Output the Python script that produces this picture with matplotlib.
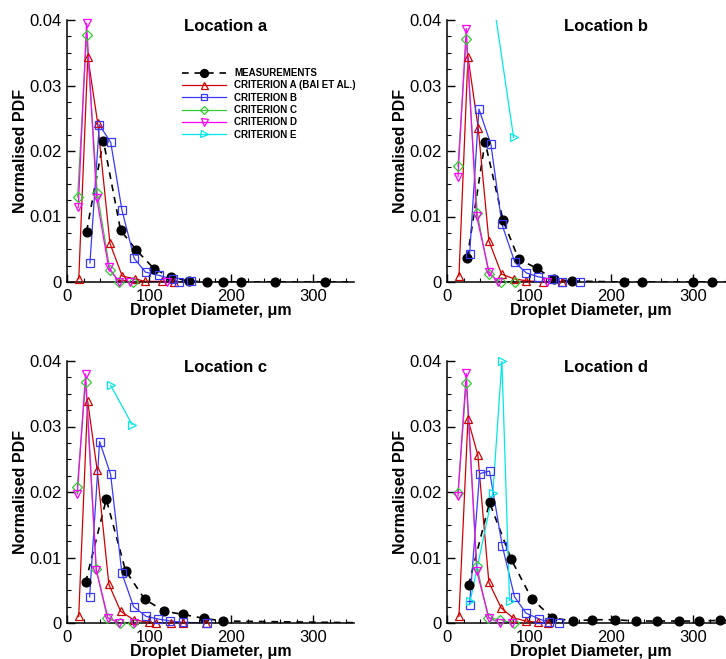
import matplotlib
matplotlib.use("Agg")
import numpy as np
import matplotlib.pyplot as plt
from matplotlib.ticker import MultipleLocator, FuncFormatter
from matplotlib.lines import Line2D

plt.rcParams["font.family"] = ["Liberation Sans", "DejaVu Sans"]

# ---------------- Location a ----------------
a_meas_d = [23.5, 44, 65, 84, 106, 127, 148.5, 170, 190, 212, 253, 314, 380]
a_meas_p = [0.0077, 0.0216, 0.0079, 0.0049, 0.0020, 0.0007, 0.00015, 0.0, 0.0, 0.0, 0.0, 0.0, 0.0]
a_A_d = [14, 25, 37, 52, 67, 82, 95, 116, 130]
a_A_p = [0.0005, 0.0344, 0.0243, 0.0059, 0.0009, 0.0005, 0.0001, 0.0001, 0.0]
a_B_d = [27.6, 39, 53, 66.6, 81.6, 95.4, 112, 129, 136, 150.6]
a_B_p = [0.0029, 0.0240, 0.0213, 0.0110, 0.0036, 0.0015, 0.0010, 0.0004, 0.0, 0.0001]
a_C_d = [12.6, 23.5, 36.5, 52, 63.3, 80.4]
a_C_p = [0.0130, 0.0377, 0.0136, 0.0018, 0.0, 0.0]
a_D_d = [13.4, 23.5, 35.7, 50.3, 63.3, 76.3, 121]
a_D_p = [0.0114, 0.0395, 0.0129, 0.0023, 0.0, 0.0, 0.0]
a_E_d = []
a_E_p = []

# ---------------- Location b ----------------
b_meas_d = [24.4, 46, 68, 87, 109, 130, 152, 216, 237, 300, 322.6, 380]
b_meas_p = [0.0037, 0.0214, 0.0094, 0.0035, 0.0021, 0.0004, 0.00015, 0.0, 0.0, 0.0, 0.0, 0.0]
b_A_d = [14.2, 25.2, 37.7, 50.7, 66.2, 81.2, 95.4, 116.5, 140]
b_A_p = [0.0009, 0.0344, 0.0235, 0.0063, 0.0012, 0.0005, 0.0002, 0.0, 0.0]
b_B_d = [27.2, 38.6, 53.2, 66.6, 82.4, 96.2, 110.8, 127.8, 140, 162]
b_B_p = [0.0042, 0.0264, 0.0210, 0.0088, 0.0030, 0.0014, 0.0008, 0.0004, 0.0, 0.0]
b_C_d = [13, 23.1, 36.5, 50.7, 65, 83]
b_C_p = [0.0177, 0.0371, 0.0105, 0.0012, 0.0, 0.0]
b_D_d = [13, 23.1, 35.7, 51, 61.7, 121.8]
b_D_p = [0.0161, 0.0387, 0.0101, 0.0015, 0.0, 0.0]
b_E_d = [57, 80.8]
b_E_p = [0.0423, 0.0221]

# ---------------- Location c ----------------
c_meas_d = [22.3, 47.5, 71, 94.6, 118.5, 141.6, 167, 190, 380]
c_meas_p = [0.0062, 0.0189, 0.0080, 0.0036, 0.0018, 0.0013, 0.0007, 0.0003, 0.0]
c_A_d = [13.9, 24.8, 36.5, 50.7, 65, 80.8, 99.4, 108, 126, 141, 169]
c_A_p = [0.0010, 0.0339, 0.0233, 0.0059, 0.0018, 0.0005, 0.0001, 0.0, 0.0, 0.0, 0.0]
c_B_d = [27.2, 39.4, 52.8, 66.6, 80.8, 96.2, 111.2, 125.8, 140.8, 170.5]
c_B_p = [0.0040, 0.0277, 0.0227, 0.0076, 0.0025, 0.0010, 0.0006, 0.0003, 0.0001, 0.0]
c_C_d = [12.2, 22.3, 35.3, 48.7, 64.5, 80]
c_C_p = [0.0208, 0.0368, 0.0082, 0.0008, 0.0, 0.0]
c_D_d = [12.2, 22.3, 35.3, 49.5, 63, 81]
c_D_p = [0.0197, 0.0380, 0.0081, 0.0008, 0.0, 0.0]
c_E_d = [52.8, 79]
c_E_p = [0.0363, 0.0303]

# ---------------- Location d ----------------
d_meas_d = [26, 51.5, 78, 103, 128, 153, 177, 204.5, 230, 255.7, 283, 307, 332, 380]
d_meas_p = [0.0058, 0.0184, 0.0097, 0.0037, 0.0008, 0.0003, 0.0005, 0.0005,
            0.0003, 0.0003, 0.0003, 0.0003, 0.0004, 0.0003]
d_A_d = [14.2, 25.2, 37.3, 50.7, 65.7, 80, 96, 111, 123]
d_A_p = [0.0010, 0.0311, 0.0256, 0.0062, 0.0023, 0.0008, 0.0003, 0.0001, 0.0]
d_B_d = [27.2, 39.4, 51.5, 67, 82, 96, 112.4, 124.6, 136.8]
d_B_p = [0.0028, 0.0228, 0.0232, 0.0118, 0.0040, 0.0015, 0.0006, 0.0001, 0.0]
d_C_d = [13, 23.1, 36, 50, 64.5, 80.8]
d_C_p = [0.0199, 0.0366, 0.0087, 0.0008, 0.0005, 0.0]
d_D_d = [13, 23.1, 36, 50.7, 63.7, 79]
d_D_p = [0.0194, 0.0381, 0.0079, 0.0008, 0.0, 0.0]
d_E_d = [28, 55.6, 66.6, 75.9]
d_E_p = [0.0034, 0.0199, 0.0400, 0.0034]

series_labels = ["MEASUREMENTS", "CRITERION A (BAI ET AL.)", "CRITERION B",
                 "CRITERION C", "CRITERION D", "CRITERION E"]
location_names = ["Location a", "Location b", "Location c", "Location d"]

XMAX, YMAX = 350, 0.04

styles = [
    dict(color="black", ls=(0, (4, 3.5)), lw=1.2, marker="o", ms=6.3, mfc="black", mec="black", mew=1.0),
    dict(color="#d00000", ls="-", lw=0.9, marker="^", ms=5.6, mfc="none", mec="#d00000", mew=0.9),
    dict(color="#3838ff", ls="-", lw=0.9, marker="s", ms=5.2, mfc="none", mec="#3838ff", mew=0.9),
    dict(color="#30cc30", ls="-", lw=0.9, marker="D", ms=4.8, mfc="none", mec="#30cc30", mew=0.9),
    dict(color="#ff00ff", ls="-", lw=0.9, marker="v", ms=5.6, mfc="none", mec="#ff00ff", mew=0.9),
    dict(color="#00e8e8", ls="-", lw=0.9, marker=">", ms=5.6, mfc="none", mec="#00e8e8", mew=0.9),
]

panels = [
    [(a_meas_d, a_meas_p), (a_A_d, a_A_p), (a_B_d, a_B_p), (a_C_d, a_C_p), (a_D_d, a_D_p), (a_E_d, a_E_p)],
    [(b_meas_d, b_meas_p), (b_A_d, b_A_p), (b_B_d, b_B_p), (b_C_d, b_C_p), (b_D_d, b_D_p), (b_E_d, b_E_p)],
    [(c_meas_d, c_meas_p), (c_A_d, c_A_p), (c_B_d, c_B_p), (c_C_d, c_C_p), (c_D_d, c_D_p), (c_E_d, c_E_p)],
    [(d_meas_d, d_meas_p), (d_A_d, d_A_p), (d_B_d, d_B_p), (d_C_d, d_C_p), (d_D_d, d_D_p), (d_E_d, d_E_p)],
]

W, H = 726, 659
fig = plt.figure(figsize=(W / 100, H / 100), dpi=100)

# axes frames in pixel units: (left, top)
frames = [(67.3, 20), (447.3, 20), (67.3, 361), (447.3, 361)]
AW, AH = 287, 262


def y_fmt(v, _):
    return "0" if abs(v) < 1e-12 else f"{v:.2f}"


def draw_series(ax, x, y, st):
    x = np.asarray(x, dtype=float)
    y = np.asarray(y, dtype=float)
    if x.size == 0:
        return
    ax.plot(x, y, color=st["color"], ls=st["ls"], lw=st["lw"], clip_on=True, zorder=2)
    keep = (x <= XMAX) & (y <= YMAX * 1.001)
    ax.plot(x[keep], y[keep], ls="none", marker=st["marker"], ms=st["ms"],
            mfc=st["mfc"], mec=st["mec"], mew=st["mew"], clip_on=False, zorder=3)


axes = []
for (lp, tp), data, name in zip(frames, panels, location_names):
    ax = fig.add_axes([lp / W, (H - tp - AH) / H, AW / W, AH / H])
    ax.set_xlim(0, XMAX)
    ax.set_ylim(0, YMAX)
    for s in ("top", "right"):
        ax.spines[s].set_visible(False)
    for s in ("left", "bottom"):
        ax.spines[s].set_linewidth(1.1)
    ax.xaxis.set_major_locator(MultipleLocator(100))
    ax.xaxis.set_minor_locator(MultipleLocator(20))
    ax.yaxis.set_major_locator(MultipleLocator(0.01))
    ax.yaxis.set_minor_locator(MultipleLocator(0.0025))
    ax.yaxis.set_major_formatter(FuncFormatter(y_fmt))
    ax.tick_params(which="major", direction="in", length=6, width=1.0, labelsize=12, pad=4)
    ax.tick_params(which="minor", direction="in", length=3, width=0.8)
    ax.tick_params(axis="x", which="major", pad=5)
    ax.set_xlabel("Droplet Diameter, μm", fontsize=11.5, fontweight="bold")
    ax.set_ylabel("Normalised PDF", fontsize=11.5, fontweight="bold")
    ax.xaxis.set_label_coords(0.5, -0.082)
    ax.yaxis.set_label_coords(-0.137, 0.5)
    ax.text(0.552, 0.977, name, transform=ax.transAxes, ha="center", va="center",
            fontsize=12, fontweight="bold")
    for (x, y), st in zip(data, styles):
        draw_series(ax, x, y, st)
    axes.append(ax)

handles = [Line2D([], [], color=st["color"], ls=st["ls"], lw=st["lw"], marker=st["marker"],
                  ms=st["ms"] * 0.9, mfc=st["mfc"], mec=st["mec"], mew=st["mew"])
           for st in styles]
axes[0].legend(handles, series_labels, loc="upper left",
               bbox_to_anchor=(182 / W, 1 - 68 / H), bbox_transform=fig.transFigure,
               frameon=False, prop=dict(weight="bold", size=7), handlelength=4.5,
               handletextpad=0.9, labelspacing=0.24, borderpad=0, borderaxespad=0,
               numpoints=1)

fig.savefig("out.png", dpi=100)
